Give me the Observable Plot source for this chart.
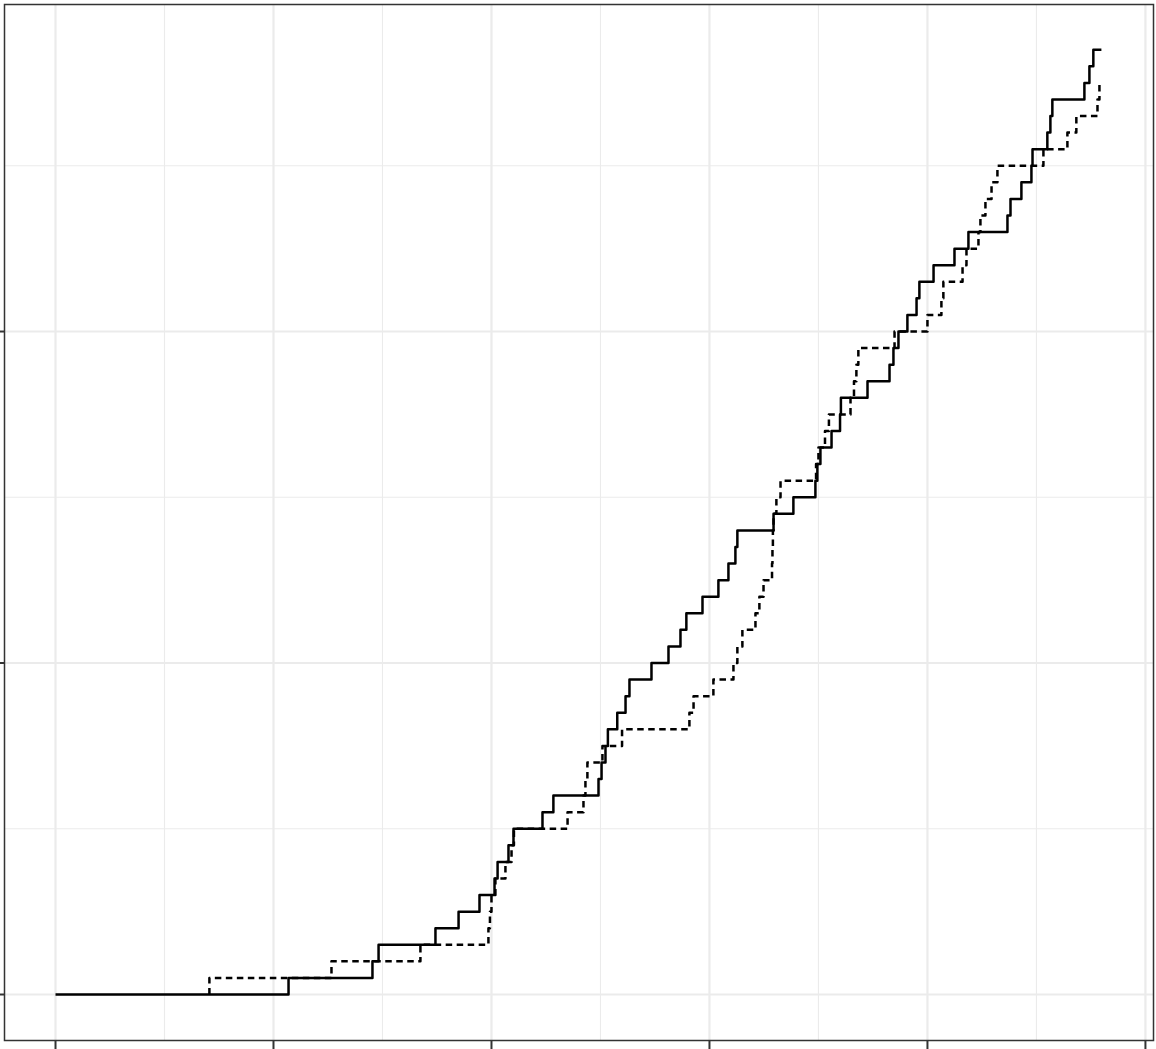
<!DOCTYPE html>
<html>
<head>
<meta charset="utf-8">
<script src="https://cdn.jsdelivr.net/npm/d3@7"></script>
<script src="https://cdn.jsdelivr.net/npm/@observablehq/plot@0.6"></script>
<style>
  html, body { margin: 0; padding: 0; background: #ffffff; }
  #chart { width: 1156px; height: 1049px; overflow: hidden; }
  svg { display: block; }
</style>
</head>
<body>
<div id="chart"></div>
<script>
// ---- data (x in axis units; each event = one step up) ----
const solidStart = 0;
const solidEvents = [
  1.069, 1.454, 1.482, 1.743, 1.849, 1.945, 2.014, 2.028, 2.078, 2.101,
  2.234, 2.284, 2.491, 2.505, 2.523, 2.534, 2.577, 2.615, 2.633, 2.734,
  2.812, 2.867, 2.894, 2.968, 3.041, 3.087, 3.119, 3.128, 3.294, 3.385,
  3.486, 3.495, 3.509, 3.560, 3.599, 3.603, 3.725, 3.826, 3.844, 3.867,
  3.908, 3.950, 3.963, 4.028, 4.124, 4.188, 4.367, 4.381, 4.431, 4.477,
  4.482, 4.550, 4.564, 4.573, 4.720, 4.743, 4.761
];
const solidEnd = 4.798;

const dashedStart = 0.706;
const dashedEvents = [
  0.706, 1.266, 1.674, 1.986, 1.993, 2.000, 2.018, 2.064, 2.092, 2.103,
  2.349, 2.422, 2.431, 2.440, 2.509, 2.599, 2.908, 2.927, 3.018, 3.110,
  3.128, 3.151, 3.211, 3.229, 3.248, 3.287, 3.289, 3.291, 3.294, 3.307,
  3.326, 3.489, 3.500, 3.530, 3.548, 3.647, 3.663, 3.674, 3.683, 3.849,
  4.000, 4.064, 4.073, 4.161, 4.179, 4.234, 4.243, 4.266, 4.294, 4.321,
  4.532, 4.642, 4.683, 4.780, 4.789
];

const xMajor = [0, 1, 2, 3, 4, 5];
const xMinor = [0.5, 1.5, 2.5, 3.5, 4.5];
const yMajor = [0, 20, 40];
const yMinor = [10, 30, 50];

// cumulative step series (like stat_ecdf with counts)
function cumulative(start, events, end) {
  const pts = [{x: start, y: 0}];
  events.forEach((e, i) => pts.push({x: e, y: i + 1}));
  if (end !== undefined) pts.push({x: end, y: events.length});
  return pts;
}
const solid = cumulative(solidStart, solidEvents, solidEnd);
const dashed = cumulative(dashedStart, dashedEvents);

const grid = "#EBEBEB";
const ink = "#333333";

const chart = Plot.plot({
  width: 1156,
  height: 1049,
  marginLeft: 4,
  marginRight: 3,
  marginTop: 4,
  marginBottom: 9,
  style: {background: "#ffffff"},
  x: {domain: [-0.234, 5.037], label: null},
  y: {domain: [-2.775, 59.73], label: null},
  marks: [
    Plot.ruleX(xMinor, {stroke: grid, strokeWidth: 1.1}),
    Plot.ruleY(yMinor, {stroke: grid, strokeWidth: 1.1}),
    Plot.ruleX(xMajor, {stroke: grid, strokeWidth: 2.2}),
    Plot.ruleY(yMajor, {stroke: grid, strokeWidth: 2.2}),
    Plot.line(dashed, {
      x: "x", y: "y", curve: "step-after",
      stroke: "#000", strokeWidth: 2.5,
      strokeDasharray: "6.5,4.5", strokeLinecap: "butt", strokeLinejoin: "round"
    }),
    Plot.line(solid, {
      x: "x", y: "y", curve: "step-after",
      stroke: "#000", strokeWidth: 2.5,
      strokeLinecap: "butt", strokeLinejoin: "round"
    }),
    Plot.frame({stroke: ink, strokeWidth: 1.5}),
    Plot.axisX({ticks: xMajor, tickSize: 9, tickFormat: () => "", label: null, stroke: ink, strokeWidth: 2}),
    Plot.axisY({ticks: yMajor, tickSize: 4, tickFormat: () => "", label: null, stroke: ink, strokeWidth: 2})
  ]
});
document.getElementById("chart").appendChild(chart);
</script>
</body>
</html>
